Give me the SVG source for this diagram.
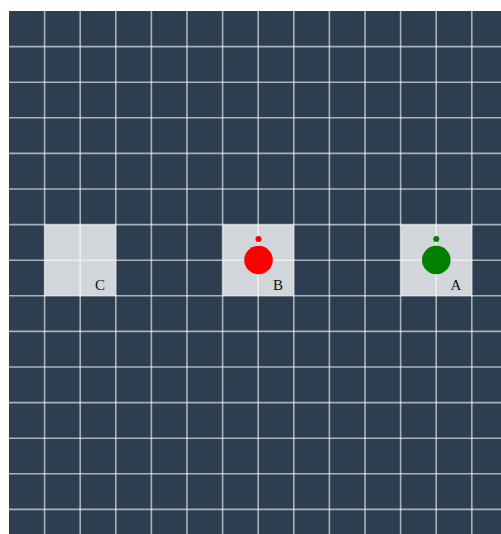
<svg xmlns="http://www.w3.org/2000/svg" width="501" height="534" viewBox="0 0 501 534">
<style>
.bg{fill:#2c3e50}
.cell{fill:#d2d5d9}
.grid line{stroke:#ffffff;stroke-opacity:0.6;stroke-width:1.6}
.lbl{font-family:"Liberation Serif","DejaVu Serif",serif;font-size:15px;fill:#111;text-anchor:middle}
</style>
<rect x="0" y="0" width="501" height="534" fill="#ffffff"/>
<rect class="bg" x="9" y="11" width="492" height="523"/>
<g id="C">
<rect class="cell" x="44.6" y="224.6" width="71.2" height="71.2"/>
<text class="lbl" x="100" y="289.5">C</text>
</g>
<g id="B">
<rect class="cell" x="222.6" y="224.6" width="71.2" height="71.2"/>
<text class="lbl" x="278" y="289.5">B</text>
</g>
<g id="A">
<rect class="cell" x="400.6" y="224.6" width="71.2" height="71.2"/>
<text class="lbl" x="456" y="289.5">A</text>
</g>
<g class="grid" id="grid">
<line x1="44.6" y1="11" x2="44.6" y2="534"/>
<line x1="80.2" y1="11" x2="80.2" y2="534"/>
<line x1="115.8" y1="11" x2="115.8" y2="534"/>
<line x1="151.4" y1="11" x2="151.4" y2="534"/>
<line x1="187" y1="11" x2="187" y2="534"/>
<line x1="222.6" y1="11" x2="222.6" y2="534"/>
<line x1="258.2" y1="11" x2="258.2" y2="534"/>
<line x1="293.8" y1="11" x2="293.8" y2="534"/>
<line x1="329.4" y1="11" x2="329.4" y2="534"/>
<line x1="365" y1="11" x2="365" y2="534"/>
<line x1="400.6" y1="11" x2="400.6" y2="534"/>
<line x1="436.2" y1="11" x2="436.2" y2="534"/>
<line x1="471.8" y1="11" x2="471.8" y2="534"/>
<line x1="9" y1="46.6" x2="501" y2="46.6"/>
<line x1="9" y1="82.2" x2="501" y2="82.2"/>
<line x1="9" y1="117.8" x2="501" y2="117.8"/>
<line x1="9" y1="153.4" x2="501" y2="153.4"/>
<line x1="9" y1="189" x2="501" y2="189"/>
<line x1="9" y1="224.6" x2="501" y2="224.6"/>
<line x1="9" y1="260.2" x2="501" y2="260.2"/>
<line x1="9" y1="295.8" x2="501" y2="295.8"/>
<line x1="9" y1="331.4" x2="501" y2="331.4"/>
<line x1="9" y1="367" x2="501" y2="367"/>
<line x1="9" y1="402.6" x2="501" y2="402.6"/>
<line x1="9" y1="438.2" x2="501" y2="438.2"/>
<line x1="9" y1="473.8" x2="501" y2="473.8"/>
<line x1="9" y1="509.4" x2="501" y2="509.4"/>
</g>
<g id="tokenB">
<circle cx="258.5" cy="260" r="14.3" fill="#ff0000"/>
<circle cx="258.5" cy="239" r="3" fill="#ff0000"/>
</g>
<g id="tokenA">
<circle cx="436.3" cy="260" r="14.3" fill="#008000"/>
<circle cx="436.3" cy="239" r="3" fill="#008000"/>
</g>
</svg>
